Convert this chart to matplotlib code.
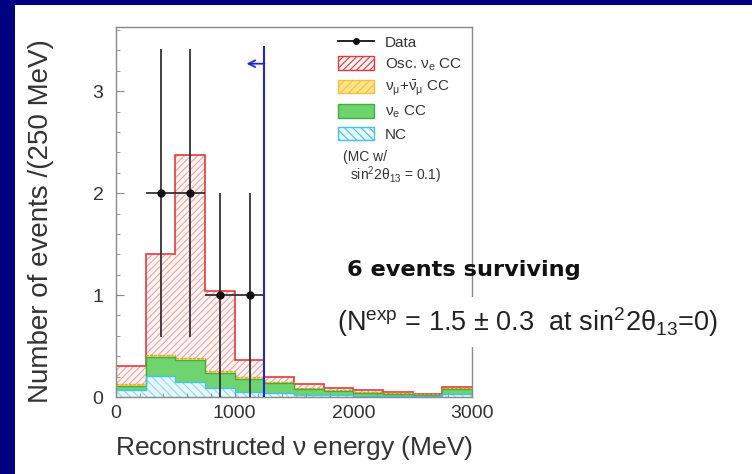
import matplotlib
matplotlib.use("Agg")
import matplotlib.pyplot as plt
import numpy as np
from matplotlib.lines import Line2D
from matplotlib.patches import Patch, Rectangle

plt.rcParams["font.family"] = ["Liberation Sans", "DejaVu Sans"]
plt.rcParams["mathtext.fontset"] = "custom"
plt.rcParams["mathtext.rm"] = "Liberation Sans"
plt.rcParams["mathtext.it"] = "Liberation Sans"
plt.rcParams["mathtext.sf"] = "Liberation Sans"
plt.rcParams["hatch.linewidth"] = 0.8

# 250 MeV bins, 0 - 3000 MeV
bin_edges = [0, 250, 500, 750, 1000, 1250, 1500, 1750, 2000, 2250, 2500, 2750, 3000]
nc_mc = [0.07, 0.21, 0.15, 0.09, 0.05, 0.04, 0.02, 0.02, 0.01, 0.01, 0.01, 0.03]
nue_mc = [0.04, 0.18, 0.21, 0.15, 0.13, 0.10, 0.06, 0.04, 0.03, 0.02, 0.01, 0.05]
numu_mc = [0.015, 0.02, 0.02, 0.015, 0.015, 0.01, 0.01, 0.01, 0.01, 0.005, 0.005, 0.01]
osc_mc = [0.175, 0.99, 1.99, 0.785, 0.165, 0.05, 0.04, 0.02, 0.02, 0.01, 0.005, 0.01]

data_x = [375, 625, 875, 1125]
data_y = [2, 2, 1, 1]
data_err_lo = [1.41, 1.41, 1.0, 1.0]
data_err_hi = [1.41, 1.41, 1.0, 1.0]
data_xerr = [125, 125, 125, 125]

cut_energy = 1250

W, H = 752, 474
NAVY = "#000080"
BLUE = "#2323d8"


def fx(x):
    return x / W


def fy(y):
    return 1 - y / H


fig = plt.figure(figsize=(W / 100, H / 100), dpi=100, facecolor=NAVY)
fig.patches.append(Rectangle((fx(15), 0), 1 - fx(15), fy(5), transform=fig.transFigure,
                             facecolor="white", edgecolor="none", zorder=-10))

ax = fig.add_axes([fx(116), fy(397), (472 - 116) / W, (397 - 27) / H])
ax.set_facecolor("white")

edges = np.array(bin_edges)
lvl1 = np.array(nc_mc)
lvl2 = lvl1 + np.array(nue_mc)
lvl3 = lvl2 + np.array(numu_mc)
lvl4 = lvl3 + np.array(osc_mc)

# stacked MC, bottom to top
ax.stairs(lvl4, edges, baseline=lvl3, fill=True, facecolor="#fff4f4",
          edgecolor="#f3a3a3", hatch="/////", linewidth=0, zorder=1)
ax.stairs(lvl3, edges, baseline=lvl2, fill=True, facecolor="#ffe48a",
          edgecolor="#f4c040", hatch="////", linewidth=0, zorder=1)
ax.stairs(lvl2, edges, baseline=lvl1, fill=True, facecolor="#6fd36f",
          edgecolor="#6fd36f", linewidth=0, zorder=1)
ax.stairs(lvl1, edges, baseline=0, fill=True, facecolor="#e6f8fd",
          edgecolor="#8fd8f2", hatch="\\\\\\\\", linewidth=0, zorder=1)

ax.stairs(lvl4, edges, baseline=None, color="#e8383d", lw=1.2, zorder=2)
ax.stairs(lvl3, edges, baseline=None, color="#f0a020", lw=1.0, ls=(0, (2, 1)), zorder=2)
ax.stairs(lvl2, edges, baseline=None, color="#3fb03f", lw=1.0, zorder=2)
ax.stairs(lvl1, edges, baseline=None, color="#40c4ea", lw=1.0, zorder=2)

ax.errorbar(data_x, data_y, yerr=[data_err_lo, data_err_hi], xerr=data_xerr,
            fmt="o", color="#111111", ecolor="#333333", elinewidth=1.3,
            markersize=5, capsize=0, zorder=4)

ax.vlines(cut_energy, 0, 3.44, color=BLUE, lw=1.5, zorder=5)
ax.annotate("", xy=(1100, 3.27), xytext=(cut_energy, 3.27),
            arrowprops=dict(arrowstyle="->", color=BLUE, lw=1.3,
                            shrinkA=0, shrinkB=0, mutation_scale=12), zorder=5)

ax.set_xlim(0, 3000)
ax.set_ylim(0, 3.63)
ax.set_xticks([0, 1000, 2000, 3000])
ax.set_yticks([0, 1, 2, 3])
ax.set_xticks(np.arange(0, 3001, 200), minor=True)
ax.set_yticks(np.arange(0, 3.61, 0.2), minor=True)
ax.tick_params(which="both", direction="in", colors="#888888", labelcolor="#333333",
               top=False, right=False)
ax.tick_params(which="major", length=6, width=0.8, labelsize=14)
ax.tick_params(which="minor", length=3, width=0.6)
ax.tick_params(axis="y", pad=9)
ax.tick_params(axis="x", pad=6)
for s in ax.spines.values():
    s.set_color("#8a8a8a")
    s.set_linewidth(1.0)

ax.set_xlabel(r"Reconstructed $\nu$ energy (MeV)", fontsize=19, color="#333333")
ax.xaxis.label.set_va("center")
ax.xaxis.set_label_coords(0.5, -0.138)
ax.set_ylabel("Number of events /(250 MeV)", fontsize=20, color="#333333")
ax.yaxis.label.set_va("center")
ax.yaxis.set_label_coords(-0.211, 0.476)

handles = [
    Line2D([], [], color="#111111", marker="o", markersize=4, lw=1.3),
    Patch(facecolor="#fff4f4", edgecolor="#e8383d", hatch="/////", lw=1.0),
    Patch(facecolor="#ffe48a", edgecolor="#f4c040", hatch="////", lw=1.0),
    Patch(facecolor="#6fd36f", edgecolor="#3fb03f", lw=1.0),
    Patch(facecolor="#e6f8fd", edgecolor="#40c4ea", hatch="\\\\\\\\", lw=1.0),
]
labels = ["Data", r"Osc. $\nu_e$ CC", r"$\nu_\mu$+$\bar{\nu}_\mu$ CC", r"$\nu_e$ CC", "NC"]
leg = ax.legend(handles, labels, loc="upper left", bbox_to_anchor=(0.624, 0.978),
                frameon=False, fontsize=11, handlelength=2.35, handleheight=0.98,
                labelspacing=0.4, handletextpad=0.7, borderpad=0, borderaxespad=0)
for t in leg.get_texts():
    t.set_color("#333333")

ax.text((343 - 116) / 356, (397 - 157) / 370, "(MC w/", transform=ax.transAxes,
        fontsize=10, color="#333333", va="center", ha="left")
ax.text((350 - 116) / 356, (397 - 175) / 370, "sin$^2$2θ$_{13}$ = 0.1)",
        transform=ax.transAxes, fontsize=10, color="#333333", va="center", ha="left")

fig.text(fx(347), fy(270), "6 events surviving", fontsize=16.2, fontweight="bold",
         family="DejaVu Sans", color="#111111", va="center", ha="left", zorder=10)
fig.text(fx(337), fy(322), "(N$^{\\rm exp}$ = 1.5 ± 0.3  at sin$^2$2θ$_{13}$=0)",
         fontsize=19.5, color="#222222", va="center", ha="left", zorder=10,
         bbox=dict(facecolor="white", edgecolor="none", pad=6))

fig.savefig("out.png", dpi=100, facecolor=fig.get_facecolor())
